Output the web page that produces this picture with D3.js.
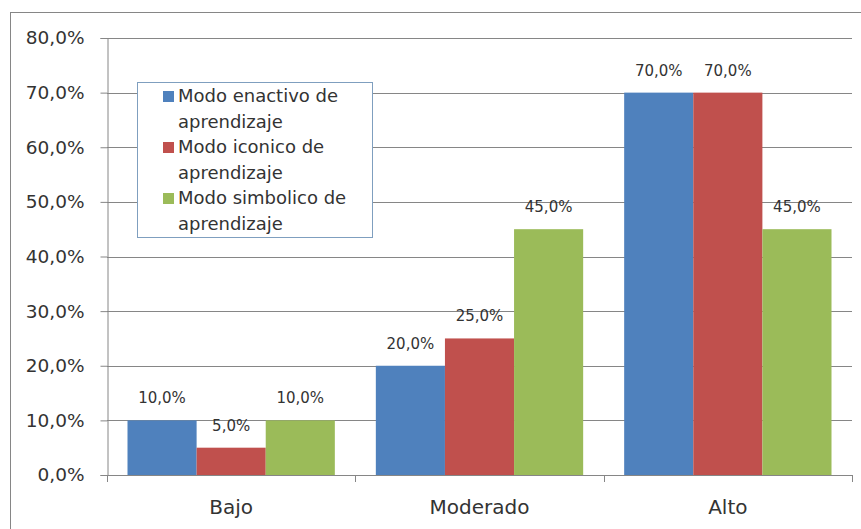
<!DOCTYPE html>
<html>
<head>
<meta charset="utf-8">
<script src="https://cdn.jsdelivr.net/npm/d3@7"></script>
<style>
  html, body { margin: 0; padding: 0; background: #fff; }
  svg { display: block; }
</style>
</head>
<body>
<svg id="chart" width="861" height="529"></svg>
<script>
// --- data ---
const categories = ["Bajo", "Moderado", "Alto"];
const seriesNames = [
  ["Modo enactivo de", "aprendizaje"],
  ["Modo iconico de", "aprendizaje"],
  ["Modo simbolico de", "aprendizaje"]
];
const enactivo = [0.10, 0.20, 0.70];
const iconico = [0.05, 0.25, 0.70];
const simbolico = [0.10, 0.45, 0.45];
const tickValues = [0, 0.1, 0.2, 0.3, 0.4, 0.5, 0.6, 0.7, 0.8];
const colors = ["#4f81bd", "#c0504d", "#9bbb59"];

const series = [enactivo, iconico, simbolico];
const font = "DejaVu Sans, Verdana, sans-serif";
const textColor = "#333";
const pct = v => d3.format(".1%")(v).replace(".", ",");

// --- setup ---
const svg = d3.select("#chart");
const plotLeft = 107, plotRight = 852, plotTop = 38, plotBottom = 475;

// outer chart border
svg.append("rect")
  .attr("x", 10.5).attr("y", 12.5)
  .attr("width", 860).attr("height", 530)
  .attr("fill", "#fff").attr("stroke", "#868686");

const x = d3.scaleBand().domain(categories).range([plotLeft, plotRight]).padding(0);
const xs = d3.scaleBand().domain(d3.range(series.length))
  .range([20.5, x.bandwidth() - 20.5]).padding(0);
const y = d3.scaleLinear().domain([0, 0.8]).range([plotBottom, plotTop]);

// gridlines
svg.append("g").selectAll("line")
  .data(tickValues.filter(d => d > 0))
  .join("line")
  .attr("x1", plotLeft).attr("x2", plotRight)
  .attr("y1", d => Math.round(y(d)) + 0.5).attr("y2", d => Math.round(y(d)) + 0.5)
  .attr("stroke", "#868686");

// y axis
const yAxis = svg.append("g")
  .attr("transform", `translate(${plotLeft + 0.5},0)`)
  .call(d3.axisLeft(y).tickValues(tickValues).tickFormat(pct).tickSize(7).tickPadding(16));
yAxis.select(".domain").attr("stroke", "#868686");
yAxis.selectAll(".tick line").attr("stroke", "#868686");
yAxis.selectAll(".tick text")
  .attr("font-family", font).attr("font-size", 18.5).attr("fill", textColor);

// bars
const groups = svg.append("g").selectAll("g")
  .data(series)
  .join("g")
  .attr("fill", (d, i) => colors[i]);

groups.each(function (vals, si) {
  const g = d3.select(this);
  g.selectAll("rect")
    .data(vals)
    .join("rect")
    .attr("x", (v, ci) => x(categories[ci]) + xs(si))
    .attr("width", xs.bandwidth())
    .attr("y", v => y(v))
    .attr("height", v => y(0) - y(v));
  g.selectAll("text")
    .data(vals)
    .join("text")
    .attr("x", (v, ci) => x(categories[ci]) + xs(si) + xs.bandwidth() / 2)
    .attr("y", v => y(v) - 17)
    .attr("text-anchor", "middle")
    .attr("font-family", font).attr("font-size", 15)
    .attr("fill", textColor)
    .text(v => pct(v));
});

// x axis
svg.append("line")
  .attr("x1", plotLeft).attr("x2", plotRight)
  .attr("y1", plotBottom + 0.5).attr("y2", plotBottom + 0.5)
  .attr("stroke", "#868686");
const bounds = categories.map(c => x(c)).concat([plotRight]);
svg.append("g").selectAll("line")
  .data(bounds)
  .join("line")
  .attr("x1", d => Math.round(d) + 0.5).attr("x2", d => Math.round(d) + 0.5)
  .attr("y1", plotBottom).attr("y2", plotBottom + 7)
  .attr("stroke", "#868686");
svg.append("g").selectAll("text")
  .data(categories)
  .join("text")
  .attr("x", d => x(d) + x.bandwidth() / 2)
  .attr("y", 514)
  .attr("text-anchor", "middle")
  .attr("font-family", font).attr("font-size", 20)
  .attr("fill", textColor)
  .text(d => d);

// legend
const legend = svg.append("g");
legend.append("rect")
  .attr("x", 137.5).attr("y", 82.5)
  .attr("width", 235).attr("height", 155)
  .attr("fill", "#fff").attr("stroke", "#7f9fbf");
seriesNames.forEach((lines, i) => {
  const base = 102 + i * 51;
  legend.append("rect")
    .attr("x", 163).attr("y", base - 11)
    .attr("width", 11).attr("height", 11)
    .attr("fill", colors[i]);
  lines.forEach((t, j) => {
    legend.append("text")
      .attr("x", 178).attr("y", base + j * 25.5)
      .attr("font-family", font).attr("font-size", 18)
      .attr("fill", textColor)
      .text(t);
  });
});
</script>
</body>
</html>
